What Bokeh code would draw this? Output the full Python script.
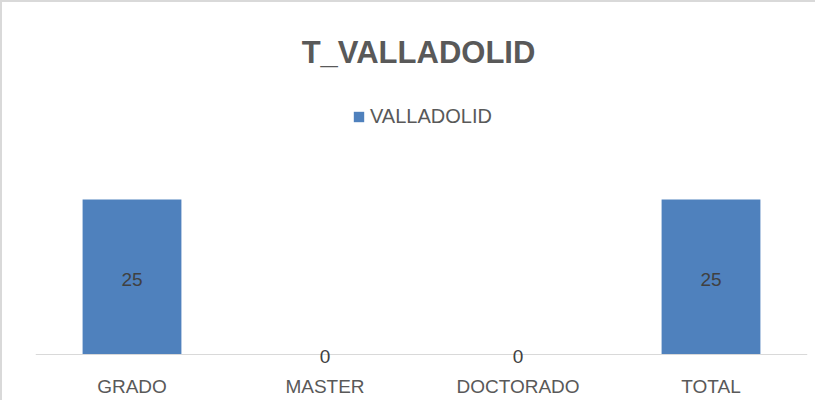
from bokeh.plotting import figure
from bokeh.models import ColumnDataSource, Range1d, Label, LabelSet, Legend, LegendItem, Span
from bokeh.core.properties import value
from bokeh.embed import file_html
from bokeh.resources import INLINE

categories = ["GRADO", "MASTER", "DOCTORADO", "TOTAL"]
values = [25, 0, 0, 25]
series_name = "VALLADOLID"
title_text = "T_VALLADOLID"

FONT = "Liberation Sans"
BAR = "#4F81BD"
TXT = "#595959"

src = ColumnDataSource(dict(
    cat=categories,
    val=values,
    mid=[v / 2 for v in values],
    lab=[str(v) for v in values],
))

p = figure(x_range=categories, y_range=Range1d(-1.61, 55.8), width=815, height=400,
           output_backend="svg", toolbar_location=None,
           min_border_left=33, min_border_right=10, min_border_top=6, min_border_bottom=38)
p.outline_line_color = None
p.grid.grid_line_color = None
p.yaxis.visible = False
p.xaxis.axis_line_color = None
p.xaxis.major_tick_line_color = None
p.xaxis.minor_tick_line_color = None
p.xaxis.major_tick_out = 0
p.xaxis.major_tick_in = 0
p.xaxis.major_label_text_font = FONT
p.xaxis.major_label_text_font_size = "19px"
p.xaxis.major_label_text_color = TXT
p.xaxis.major_label_standoff = 11
p.x_range.range_padding = 0
p.styles = {"border-top": "2px solid #d9d9d9", "border-left": "2px solid #d9d9d9"}

# category baseline at value 0
p.add_layout(Span(location=0, dimension="width", line_color="#d9d9d9", line_width=1))

bars = p.vbar(x="cat", top="val", width=0.512, source=src, fill_color=BAR, line_color=None)
p.add_layout(LabelSet(x="cat", y="mid", text="lab", source=src, text_align="center",
                      text_baseline="middle", y_offset=-2, text_font=value(FONT),
                      text_font_size=value("19px"), text_color=value("#404040")))

p.add_layout(Label(x=383, y=312, x_units="screen", y_units="screen", text=title_text,
                   text_align="center", text_baseline="middle", text_font=FONT,
                   text_font_size="31px", text_font_style="bold", text_color=TXT))

legend = Legend(items=[LegendItem(label=series_name, renderers=[bars])],
                location=(317, 236), orientation="horizontal",
                label_text_font=FONT, label_text_font_size="20px", label_text_color=TXT,
                glyph_width=13, glyph_height=13, padding=0, margin=0, spacing=0,
                label_standoff=5, border_line_color=None, background_fill_alpha=0)
p.add_layout(legend, "center")

open("out.html", "w").write(file_html(p, INLINE))
